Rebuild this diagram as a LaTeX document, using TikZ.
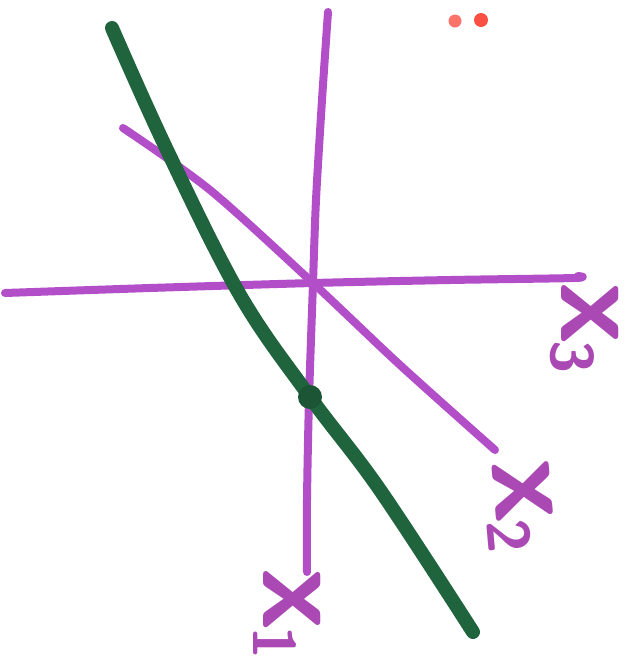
\documentclass[tikz,border=0pt]{standalone}
\definecolor{axpurple}{RGB}{178,78,200}
\definecolor{lblpurple}{RGB}{170,72,180}
\definecolor{mgreen}{RGB}{32,100,62}
\definecolor{dotred}{RGB}{250,80,68}
\newcommand{\lblsub}[1]{x\kern-0.03em\raisebox{-0.08em}{\fontsize{60}{60}\selectfont #1}}
\begin{document}
\begin{tikzpicture}[x=1pt,y=-1pt,
  axis/.style={draw=axpurple,line width=8pt,line cap=round,line join=round},
  gline/.style={draw=mgreen,line width=14pt,line cap=round,line join=round},
  lbl/.style={text=lblpurple,font=\fontsize{125}{125}\selectfont\sffamily\bfseries,inner sep=0pt}]
\useasboundingbox (0,0) rectangle (636,665);
% axes
\draw[axis] plot[smooth] coordinates {(5,293) (150,288) (313,283) (450,280) (574,278) (578,276)};
\draw[axis] plot[smooth] coordinates {(328,12) (322,100) (316,200) (313,283) (309,400) (307,500) (307,572)};
\draw[axis] plot[smooth] coordinates {(123,128) (210,190) (313,283) (400,365) (495,450)};
% green line
\draw[gline] plot[smooth,tension=0.6] coordinates {(112,28) (167,150) (240,295) (310,397) (380,490) (473,632)};
\fill[mgreen!85!black] (310,397) circle (12pt);
% red dots
\fill[dotred!80!white] (455,21) circle (6.5pt);
\fill[dotred] (481,20) circle (7pt);
% labels
\node[lbl,rotate=-90] (x3) at (584,328) {\lblsub{3}};
\node[lbl,rotate=-85] (x2) at (519,506) {\lblsub{2}};
\node[lbl,rotate=-90] (x1) at (287,614) {\lblsub{1}};
\end{tikzpicture}
\end{document}
